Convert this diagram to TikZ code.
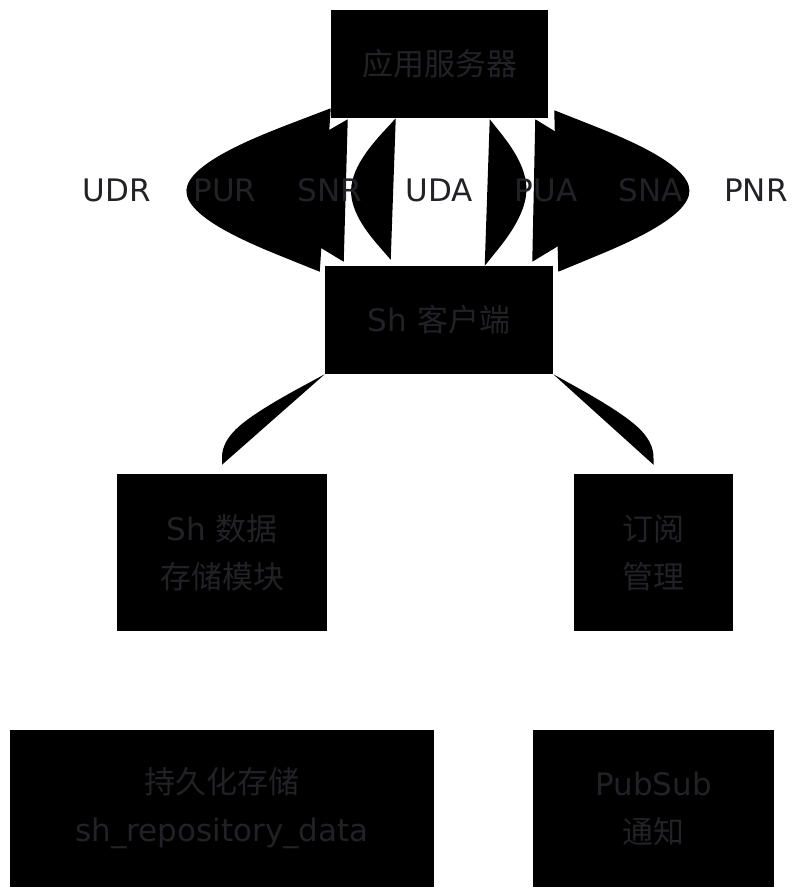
\documentclass[tikz,border=0pt]{standalone}
\usepackage{fontspec}
\setmainfont{DejaVu Sans}
\newfontfamily\cjk{Noto Sans CJK SC}
\usetikzlibrary{calc}
\pgfdeclarelayer{bg}
\pgfsetlayers{bg,main}
\definecolor{tgray}{RGB}{34,34,38}
\newcommand\basisfill[4][edgefill]{%
  \path[#1] (#2) -- ($(#2)!1/6!(#3)$)
    .. controls ($(#2)!1/3!(#3)$) and ($(#2)!2/3!(#3)$) .. ($($(#2)!0.5!(#4)$)!2/3!(#3)$)
    .. controls ($(#3)!1/3!(#4)$) and ($(#3)!2/3!(#4)$) .. ($(#3)!5/6!(#4)$)
    -- (#4) -- cycle;}
\tikzset{
  txt/.style={text=tgray, font=\fontsize{23.25}{36}\selectfont, inner sep=0pt},
  lbl/.style={txt},
  box/.style={txt, fill=black, draw=none, align=center},
  edgefill/.style={fill=black},
  flatedge/.style={draw=none, fill=none},
}
\begin{document}
\begin{tikzpicture}[x=0.75pt, y=-0.75pt]
\useasboundingbox (0,0) rectangle (796,888);
% boxes
\node[box, minimum width=162.75pt, minimum height=81pt] (A) at (439.5,64) {{\cjk 应用服务器}};
\node[box, minimum width=171pt, minimum height=81pt] (B) at (439,320) {Sh {\cjk 客户端}};
\node[box, minimum width=157.5pt, minimum height=117.75pt] (C) at (222,552.5) {Sh {\cjk 数据}\\{\cjk 存储模块}};
\node[box, minimum width=119.25pt, minimum height=117.75pt] (D) at (653.5,552.5) {{\cjk 订阅}\\{\cjk 管理}};
\node[box, minimum width=318pt, minimum height=117.75pt] (E) at (222,808.5) {{\cjk 持久化存储}\\sh\_repository\_data};
\node[box, minimum width=180.75pt, minimum height=117.75pt] (F) at (653.5,808.5) {PubSub\\{\cjk 通知}};
% edge labels
\node[lbl] (lUDR) at (117,190) {UDR};
\node[lbl] (lPUR) at (225,190) {PUR};
\node[lbl] (lSNR) at (330,190) {SNR};
\node[lbl] (lUDA) at (439.5,190) {UDA};
\node[lbl] (lPUA) at (546,190) {PUA};
\node[lbl] (lSNA) at (651,190) {SNA};
\node[lbl] (lPNR) at (756,190) {PNR};
% edge end points
\coordinate (udr0) at ($(A.south west)+(0,-10)$);
\coordinate (udr1) at ($(B.north west)+(-5,6)$);
\coordinate (pur0) at ($(A.south west)+(17,1)$);
\coordinate (pur1) at ($(B.north west)+(19,-4)$);
\coordinate (snr0) at ($(A.south west)+(65,0)$);
\coordinate (snr1) at ($(B.north west)+(66,-6)$);
\coordinate (uda0) at (A.south);
\coordinate (uda1) at (A.south |- B.north);
\coordinate (pua0) at ($(A.south west)+(159,1)$);
\coordinate (pua1) at ($(B.north west)+(160,0)$);
\coordinate (sna0) at ($(A.south east)+(-13,1)$);
\coordinate (sna1) at ($(B.north east)+(-21,-4)$);
\coordinate (pnr0) at ($(A.south east)+(6,-8)$);
\coordinate (pnr1) at ($(B.north east)+(5,6)$);
\coordinate (bc0) at (B.south west);
\coordinate (bcm) at ($(C.north)+(0,-44)$);
\coordinate (bc1) at ($(C.north)+(0,-9)$);
\coordinate (bd0) at (B.south east);
\coordinate (bdm) at ($(D.north)+(0,-44)$);
\coordinate (bd1) at ($(D.north)+(0,-9)$);
\begin{pgfonlayer}{bg}
\basisfill{udr0}{lUDR.center}{udr1}
\basisfill{pur0}{lPUR.center}{pur1}
\basisfill{snr0}{lSNR.center}{snr1}
\basisfill[flatedge]{uda0}{lUDA.center}{uda1}
\basisfill{pua0}{lPUA.center}{pua1}
\basisfill{sna0}{lSNA.center}{sna1}
\basisfill{pnr0}{lPNR.center}{pnr1}
\basisfill{bc0}{bcm}{bc1}
\basisfill{bd0}{bdm}{bd1}
\end{pgfonlayer}
\end{tikzpicture}
\end{document}
